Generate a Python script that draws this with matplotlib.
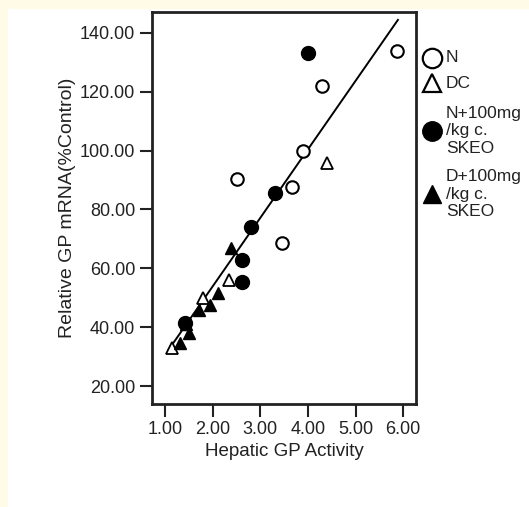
import numpy as np
from matplotlib import pyplot as plt
from matplotlib.patches import Rectangle
from matplotlib.lines import Line2D

plt.rcParams['font.family'] = ['Liberation Sans', 'DejaVu Sans']

# group N
n_x = [5.88, 4.30, 3.89, 2.51, 3.67, 3.45]
n_y = [133.9, 122.1, 99.9, 90.2, 87.5, 68.7]
# group DC
dc_x = [4.40, 2.34, 1.79, 1.15]
dc_y = [95.9, 56.0, 50.0, 33.0]
# group N + 100 mg/kg c. SKEO
ns_x = [4.00, 3.30, 2.81, 2.61, 2.62, 1.42]
ns_y = [133.1, 85.7, 73.9, 62.8, 55.4, 41.5]
# group D + 100 mg/kg c. SKEO
ds_x = [2.38, 2.11, 1.95, 1.72, 1.45, 1.51, 1.32]
ds_y = [67.0, 51.7, 47.7, 45.8, 41.0, 38.1, 34.5]

# fitted line
fit_slope = 23.28
fit_intercept = 7.29
fit_range = [1.07, 5.89]

legend_labels = ['N', 'DC', 'N+100mg\n/kg c.\nSKEO', 'D+100mg\n/kg c.\nSKEO']

W, H = 529, 507
fig = plt.figure(figsize=(W / 100, H / 100), dpi=100)
fig.patch.set_facecolor('#fffbe6')
fig.add_artist(Rectangle((8 / W, 0), 1, 1 - 9 / H, transform=fig.transFigure,
                         facecolor='white', edgecolor='none', zorder=-5))

ax = fig.add_axes([152 / W, 1 - 404 / H, 264 / W, 392 / H])
ax.set_zorder(2)
ax.set_xlim(0.727, 6.27)
ax.set_ylim(13.9, 147.1)

fx = np.array(fit_range)
ax.plot(fx, fit_intercept + fit_slope * fx, color='black', lw=1.4, zorder=2)

ax.plot(n_x, n_y, 'o', ms=9, mfc='white', mec='black', mew=1.5, zorder=3)
ax.plot(dc_x, dc_y, '^', ms=8, mfc='white', mec='black', mew=1.3, zorder=3)
ax.plot(ns_x, ns_y, 'o', ms=10, mfc='black', mec='black', zorder=3)
ax.plot(ds_x, ds_y, '^', ms=9, mfc='black', mec='black', zorder=3)

ax.set_xticks([1, 2, 3, 4, 5, 6])
ax.set_xticklabels(['%.2f' % v for v in [1, 2, 3, 4, 5, 6]])
ax.set_yticks([20, 40, 60, 80, 100, 120, 140])
ax.set_yticklabels(['%.2f' % v for v in [20, 40, 60, 80, 100, 120, 140]])
ax.tick_params(direction='out', length=9, width=1.5, labelsize=13, colors='#222222', pad=3)
ax.tick_params(top=False, right=False)
for sp in ax.spines.values():
    sp.set_linewidth(2)
    sp.set_color('#222222')

ax.set_xlabel('Hepatic GP Activity', fontsize=13.5, color='#222222', labelpad=4)
ax.set_ylabel('Relative GP mRNA(%Control)', fontsize=14, color='#222222', labelpad=3)

# legend drawn by hand: marker column + text column, pixel rows
legend_styles = [
    dict(marker='o', ms=14, mfc='white', mec='black', mew=1.6),
    dict(marker='^', ms=13, mfc='white', mec='black', mew=1.6),
    dict(marker='o', ms=14, mfc='black', mec='black'),
    dict(marker='^', ms=13, mfc='black', mec='black'),
]
legend_rows = [58, 83, 131, 194]
for label, style, row in zip(legend_labels, legend_styles, legend_rows):
    yy = 1 - row / H
    fig.add_artist(Line2D([432 / W], [yy], ls='none', transform=fig.transFigure, **style))
    fig.text(446 / W, yy, label, fontsize=12.5, color='#222222', va='center', ha='left',
             linespacing=1.2)

fig.savefig('out.png', dpi=100, facecolor=fig.get_facecolor())
